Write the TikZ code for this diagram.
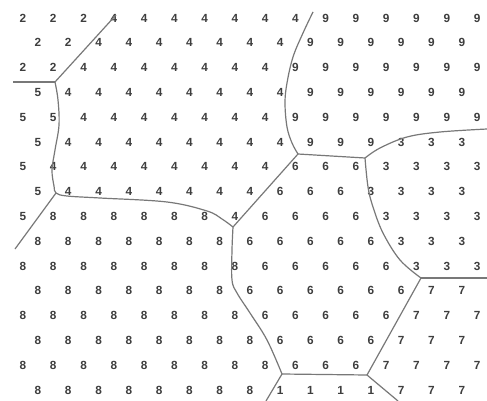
\documentclass[tikz,border=0pt]{standalone}
\usepackage{fontspec}
\setmainfont{Liberation Sans}
\definecolor{digitgray}{HTML}{3E3E3E}
\definecolor{linegray}{HTML}{787878}
\begin{document}
\begin{tikzpicture}[x=1pt,y=-1pt,
  digit/.style={font=\fontsize{11.8}{12}\selectfont\bfseries, text=digitgray, inner sep=0pt},
  border/.style={draw=linegray, line width=1.2pt, line join=round}]
\fill[white] (0,0) rectangle (487,401);
\useasboundingbox (0,0) rectangle (487,401);
% digits
\foreach \row [count=\r from 0] in {
  {2,2,2,4,4,4,4,4,4,4,9,9,9,9,9,9},
  {2,2,4,4,4,4,4,4,4,9,9,9,9,9,9},
  {2,2,4,4,4,4,4,4,4,9,9,9,9,9,9,9},
  {5,4,4,4,4,4,4,4,4,9,9,9,9,9,9},
  {5,5,4,4,4,4,4,4,4,9,9,9,9,9,9,9},
  {5,4,4,4,4,4,4,4,4,9,9,9,3,3,3},
  {5,4,4,4,4,4,4,4,4,6,6,6,3,3,3,3},
  {5,4,4,4,4,4,4,4,6,6,6,3,3,3,3},
  {5,8,8,8,8,8,8,4,6,6,6,6,3,3,3,3},
  {8,8,8,8,8,8,8,6,6,6,6,6,3,3,3},
  {8,8,8,8,8,8,8,8,6,6,6,6,6,3,3,3},
  {8,8,8,8,8,8,8,6,6,6,6,6,6,7,7},
  {8,8,8,8,8,8,8,8,6,6,6,6,6,7,7,7},
  {8,8,8,8,8,8,8,8,6,6,6,6,7,7,7},
  {8,8,8,8,8,8,8,8,8,6,6,6,7,7,7,7},
  {8,8,8,8,8,8,8,8,1,1,1,1,7,7,7}} {
  \foreach \d [count=\c from 0] in \row {
    \pgfmathsetmacro\xx{23+15*mod(\r,2)+30.27*\c}
    \pgfmathsetmacro\yy{18+24.8*\r}
    \node[digit] (d-\r-\c) at (\xx,\yy) {\d};
  }
}
% junctions and free ends
\coordinate (J1) at (55,82);
\coordinate (J2) at (56,193);
\coordinate (J3) at (233,227);
\coordinate (J4) at (282,374);
\coordinate (J5) at (367,375);
\coordinate (J6) at (421,278);
\coordinate (J7) at (365,158);
\coordinate (J8) at (298,154);
\coordinate (eA) at (116,15);
\coordinate (eB) at (13,82);
\coordinate (eD) at (15,249);
\coordinate (eO) at (313,12);
\coordinate (eL) at (487,129);
\coordinate (eJ) at (487,278);
\coordinate (eH) at (398,401);
\coordinate (eF) at (266,401);
% boundaries
\draw[border] (J1) -- (eA);
\draw[border] (J1) -- (eB);
\draw[border] plot[smooth, tension=0.6] coordinates {(J1) (58,100) (59,125) (55,150) (52,170) (54,186) (J2) (67,196) (100,198) (167,202) (207,211) (222,219) (J3)};
\draw[border] (J2) -- (eD);
\draw[border] (J3) -- (J8);
\draw[border] plot[smooth, tension=0.6] coordinates {(J3) (232,250) (232,280) (237,293) (250,313) (267,340) (J4)};
\draw[border] (J4) -- (J5);
\draw[border] (J4) -- (eF);
\draw[border] (J5) -- (eH);
\draw[border] (J5) -- (J6);
\draw[border] (J6) -- (eJ);
\draw[border] plot[smooth, tension=0.6] coordinates {(J7) (368,187) (373,207) (383,233) (400,260) (J6)};
\draw[border] plot[smooth, tension=0.6] coordinates {(J7) (380,148) (407,137) (440,132) (eL)};
\draw[border] (J8) -- (J7);
\draw[border] plot[smooth, tension=0.6] coordinates {(J8) (292,143) (287,127) (285,103) (287,83) (293,57) (303,33) (eO)};
\end{tikzpicture}
\end{document}
